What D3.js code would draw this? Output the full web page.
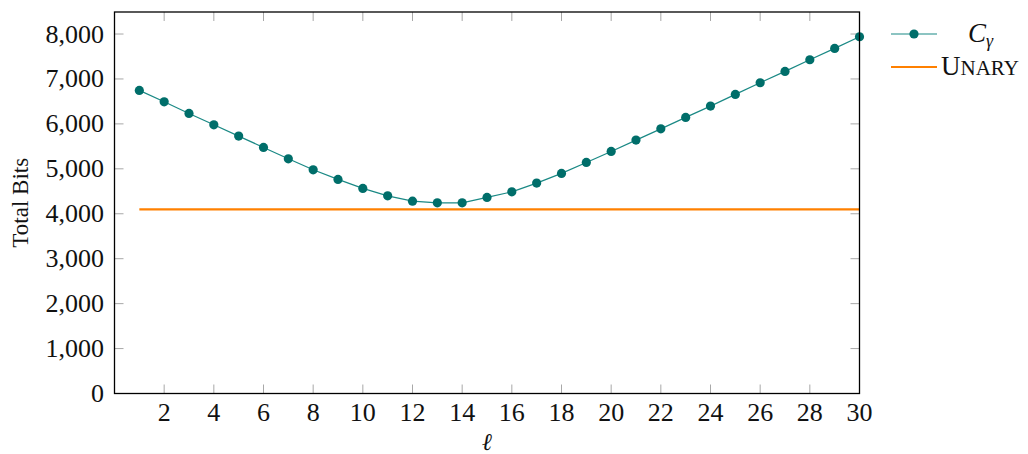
<!DOCTYPE html>
<html>
<head>
<meta charset="utf-8">
<title>Total Bits</title>
<script src="https://d3js.org/d3.v7.min.js"></script>
<style>
  body { margin: 0; background: #fff; }
  svg { display: block; }
  text { font-family: "Liberation Serif", "DejaVu Serif", serif; fill: #111; }
</style>
</head>
<body>
<svg id="chart" width="1028" height="454"></svg>
<script>
// data
var ells = [1, 2, 3, 4, 5, 6, 7, 8, 9, 10, 11, 12, 13, 14, 15,
            16, 17, 18, 19, 20, 21, 22, 23, 24, 25, 26, 27, 28, 29, 30];
var cGamma = [6745, 6492, 6233, 5980, 5728, 5476, 5223, 4978, 4764, 4564,
              4399, 4281, 4243, 4243, 4363, 4488, 4682, 4898, 5142, 5387,
              5639, 5890, 6144, 6396, 6656, 6915, 7168, 7427, 7680, 7939];
var unary = 4096;
var xTicks = [2, 4, 6, 8, 10, 12, 14, 16, 18, 20, 22, 24, 26, 28, 30];
var yTicks = [0, 1000, 2000, 3000, 4000, 5000, 6000, 7000, 8000];

var svg = d3.select("#chart");
var plotL = 114.5, plotR = 859.5, plotT = 12, plotB = 393.5;
var tickLen = 9;

var x = d3.scaleLinear().domain([0, 30]).range([plotL, plotR]);
var y = d3.scaleLinear().domain([0, 8490]).range([plotB, plotT]);

var fmt = d3.format(",");

// tick marks on all four sides, pointing inward
var ticks = svg.append("g").attr("stroke", "#a8a8a8").attr("stroke-width", 1);
xTicks.forEach(function(t) {
    ticks.append("line").attr("x1", x(t)).attr("x2", x(t)).attr("y1", plotB).attr("y2", plotB - tickLen);
    ticks.append("line").attr("x1", x(t)).attr("x2", x(t)).attr("y1", plotT).attr("y2", plotT + tickLen);
});
yTicks.forEach(function(t) {
    ticks.append("line").attr("x1", plotL).attr("x2", plotL + tickLen).attr("y1", y(t)).attr("y2", y(t));
    ticks.append("line").attr("x1", plotR).attr("x2", plotR - tickLen).attr("y1", y(t)).attr("y2", y(t));
});

// tick labels
svg.append("g").selectAll("text")
    .data(xTicks)
    .enter().append("text")
    .attr("x", function(d) { return x(d); })
    .attr("y", 421)
    .attr("text-anchor", "middle")
    .style("font-size", "26px")
    .text(function(d) { return d; });

svg.append("g").selectAll("text")
    .data(yTicks)
    .enter().append("text")
    .attr("x", 104)
    .attr("y", function(d) { return y(d) + 8.5; })
    .attr("text-anchor", "end")
    .style("font-size", "26px")
    .text(function(d) { return fmt(d); });

// axis labels
svg.append("text")
    .attr("transform", "translate(28," + ((plotT + plotB) / 2) + ") rotate(-90)")
    .attr("text-anchor", "middle")
    .style("font-size", "23px")
    .text("Total Bits");

svg.append("text")
    .attr("x", x(15))
    .attr("y", 450)
    .attr("text-anchor", "middle")
    .style("font-size", "24px")
    .style("font-style", "italic")
    .text("ℓ");

// Unary baseline
svg.append("line")
    .attr("x1", x(ells[0])).attr("x2", x(ells[ells.length - 1]))
    .attr("y1", y(unary)).attr("y2", y(unary))
    .attr("stroke", "#ff8000")
    .attr("stroke-width", 2.2);

// C_gamma series
var line = d3.line()
    .x(function(d, i) { return x(ells[i]); })
    .y(function(d) { return y(d); });

svg.append("path")
    .datum(cGamma)
    .attr("d", line)
    .attr("fill", "none")
    .attr("stroke", "#1a8985")
    .attr("stroke-width", 1.2);

svg.append("g").selectAll("circle")
    .data(cGamma)
    .enter().append("circle")
    .attr("cx", function(d, i) { return x(ells[i]); })
    .attr("cy", function(d) { return y(d); })
    .attr("r", 4.6)
    .attr("fill", "#006e6a");

// frame
svg.append("rect")
    .attr("x", plotL).attr("y", plotT)
    .attr("width", plotR - plotL).attr("height", plotB - plotT)
    .attr("fill", "none")
    .attr("stroke", "#000")
    .attr("stroke-width", 1.3);

// legend
var lg = svg.append("g");
lg.append("line").attr("x1", 891).attr("x2", 937).attr("y1", 34).attr("y2", 34)
    .attr("stroke", "#1a8985").attr("stroke-width", 1.2);
lg.append("circle").attr("cx", 914).attr("cy", 34).attr("r", 4.6).attr("fill", "#006e6a");
var cg = lg.append("text").attr("x", 968).attr("y", 42).style("font-size", "27px");
cg.append("tspan").style("font-style", "italic").text("C");
cg.append("tspan").attr("dy", 5).style("font-style", "italic").style("font-size", "18px").text("γ");

lg.append("line").attr("x1", 891).attr("x2", 937).attr("y1", 67).attr("y2", 67)
    .attr("stroke", "#ff8000").attr("stroke-width", 2.2);
var un = lg.append("text").attr("x", 941).attr("y", 75).style("font-size", "27px");
un.append("tspan").text("U");
un.append("tspan").style("font-size", "21px").text("NARY");
</script>
</body>
</html>
